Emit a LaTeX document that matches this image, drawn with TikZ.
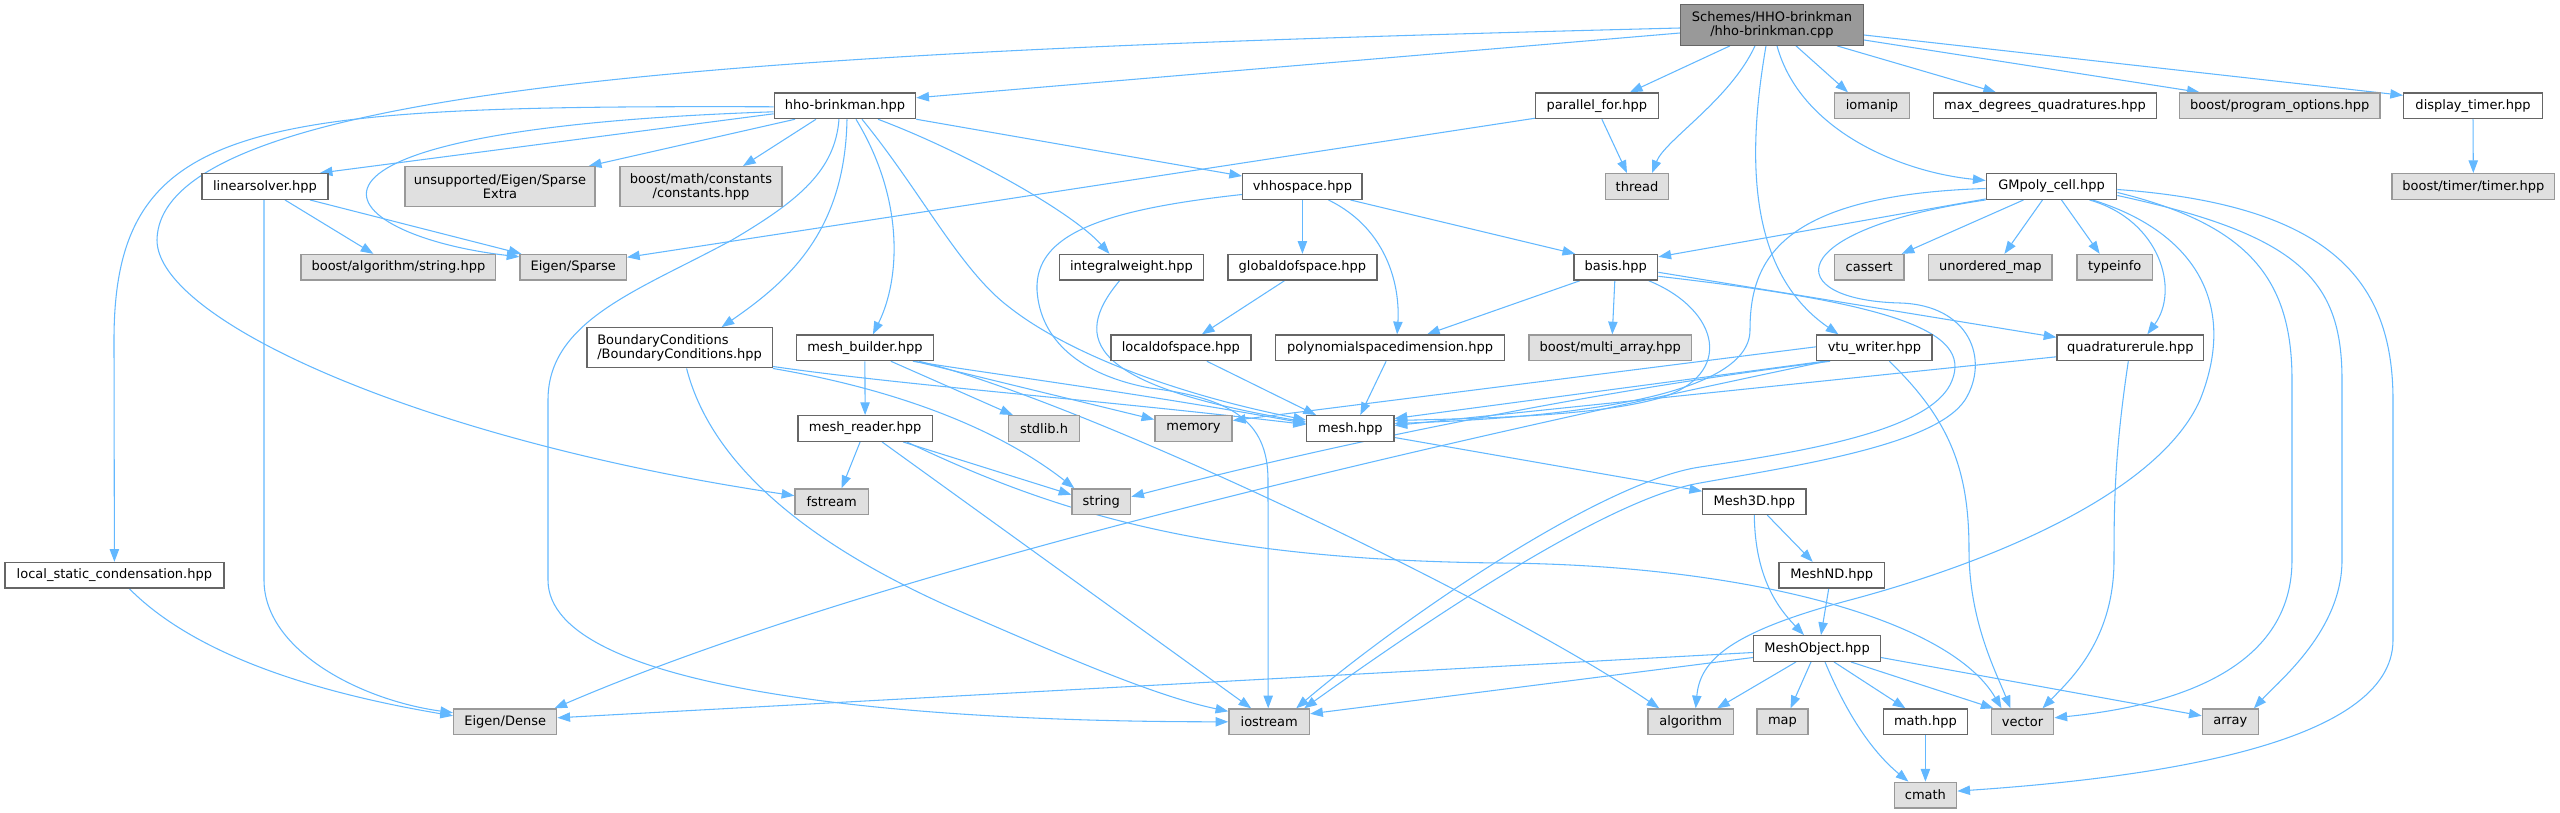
\documentclass[tikz,border=0pt]{standalone}
\usepackage{fontspec}
\setmainfont{DejaVu Sans}
\usetikzlibrary{arrows.meta,calc,backgrounds}
\definecolor{edgec}{HTML}{63B8FF}
\definecolor{docb}{HTML}{666666}
\definecolor{extb}{HTML}{999999}
\definecolor{extf}{HTML}{E0E0E0}
\definecolor{rootf}{HTML}{999999}
\newcommand\nfnt{\fontsize{9.75pt}{10.9pt}\selectfont}
\tikzset{
  docbox/.style={draw=docb, fill=white, line width=1pt, inner sep=0pt, minimum height=19.2pt, font=\nfnt},
  extbox/.style={docbox, draw=extb, fill=extf},
  rootbox/.style={docbox, fill=rootf},
  twoline/.style={minimum height=30pt, align=center},
  wd/.style={minimum width=#1*0.75pt},
  conn/.style={draw=edgec, line width=0.8pt, -{Triangle[length=9.5pt,width=7pt]}},
}
\begin{document}
\begin{tikzpicture}[x=0.75pt,y=-0.75pt]
\useasboundingbox (0,0) rectangle (2560,813);
% nodes
\node[rootbox, wd=182.6, minimum height=30.3pt, align=center] (cpp) at (1772,25) {Schemes/HHO-brinkman\\/hho-brinkman.cpp};
\node[docbox, wd=141.3] (hho) at (845,105.8) {hho-brinkman.hpp};
\node[docbox, wd=122.9] (pfor) at (1596.9,105.8) {parallel\_for.hpp};
\node[extbox, wd=75.1] (iomanip) at (1872,105.8) {iomanip};
\node[docbox, wd=222.7] (maxdeg) at (2045,105.8) {max\_degrees\_quadratures.hpp};
\node[extbox, wd=200.8] (progopt) at (2279.7,105.8) {boost/program\_options.hpp};
\node[docbox, wd=138.7] (disptimer) at (2473,105.8) {display\_timer.hpp};
\node[docbox, wd=126.2] (linsolver) at (265,186.5) {linearsolver.hpp};
\node[extbox, wd=190.2, twoline] (unsup) at (500,186.7) {unsupported/Eigen/Sparse\\Extra};
\node[extbox, wd=162.2, twoline] (bmath) at (701,186.7) {boost/math/constants\\/constants.hpp};
\node[docbox, wd=119.5] (vhho) at (1302.4,186.5) {vhhospace.hpp};
\node[extbox, wd=63.6] (thread) at (1637,186.5) {thread};
\node[docbox, wd=130.5] (gmpoly) at (2051.5,186.5) {GMpoly\_cell.hpp};
\node[extbox, wd=162.4] (btimer) at (2473.3,186.5) {boost/timer/timer.hpp};
\node[extbox, wd=194.8] (balg) at (398.4,267.3) {boost/algorithm/string.hpp};
\node[extbox, wd=106.3] (esparse) at (573.2,267.3) {Eigen/Sparse};
\node[docbox, wd=144.2] (intw) at (1131.5,267.3) {integralweight.hpp};
\node[docbox, wd=149.1] (gdof) at (1302.4,267.3) {globaldofspace.hpp};
\node[docbox, wd=83.9] (basis) at (1615.8,267.3) {basis.hpp};
\node[extbox, wd=69.6] (cassert) at (1869.2,267.3) {cassert};
\node[extbox, wd=123.4] (umap) at (1990.4,267.3) {unordered\_map};
\node[extbox, wd=75.7] (typeinfo) at (2114.7,267.3) {typeinfo};
\node[docbox, wd=185.2, twoline, align=left] (bc) at (679.6,347.8) {BoundaryConditions\\/BoundaryConditions.hpp};
\node[docbox, wd=137.2] (mbuilder) at (864.9,347.8) {mesh\_builder.hpp};
\node[docbox, wd=139.9] (ldof) at (1180.9,347.8) {localdofspace.hpp};
\node[docbox, wd=229.2] (polyd) at (1390.1,347.8) {polynomialspacedimension.hpp};
\node[extbox, wd=162.8] (multiarr) at (1610.3,347.8) {boost/multi\_array.hpp};
\node[docbox, wd=115.2] (vtu) at (1874.4,347.8) {vtu\_writer.hpp};
\node[docbox, wd=146.5] (quadr) at (2130.3,347.8) {quadraturerule.hpp};
\node[docbox, wd=134.2] (mreader) at (865.1,428.5) {mesh\_reader.hpp};
\node[extbox, wd=71] (stdlib) at (1044,428.5) {stdlib.h};
\node[extbox, wd=77.3] (memory) at (1193.5,428.5) {memory};
\node[docbox, wd=87.2] (mesh) at (1350.3,428.5) {mesh.hpp};
\node[extbox, wd=73.2] (fstream) at (831.6,501.7) {fstream};
\node[extbox, wd=58.6] (string) at (1101.3,501.7) {string};
\node[docbox, wd=103.1] (mesh3d) at (1754.3,501.7) {Mesh3D.hpp};
\node[docbox, wd=218.9] (lsc) at (114.4,575.3) {local\_static\_condensation.hpp};
\node[docbox, wd=105.3] (meshnd) at (1831.7,575.3) {MeshND.hpp};
\node[docbox, wd=126.7] (meshobj) at (1817,648.5) {MeshObject.hpp};
\node[extbox, wd=103.1] (edense) at (505.2,721.8) {Eigen/Dense};
\node[extbox, wd=80.6] (iostream) at (1269.2,721.8) {iostream};
\node[extbox, wd=85.5] (algo) at (1690.7,721.8) {algorithm};
\node[extbox, wd=51] (map) at (1782.5,721.8) {map};
\node[docbox, wd=84.4] (mathh) at (1925.4,721.8) {math.hpp};
\node[extbox, wd=62.6] (vector) at (2022.5,721.8) {vector};
\node[extbox, wd=55.9] (array) at (2230.3,721.8) {array};
\node[extbox, wd=62.5] (cmath) at (1925.4,795.1) {cmath};
% edges
\begin{scope}[on background layer]
% from cpp
\draw[conn] ($(cpp.west)+(0,8)$) -- ($(hho.east)+(0,-8)$);
\draw[conn] ($(cpp.west)+(0,3)$) .. controls (800,50) and (160,80) .. (157,240) .. controls (157,320) and (420,440) .. ($(fstream.west)+(0,-6)$);
\draw[conn] ($(cpp.south)+(-42,0)$) -- ($(pfor.north)+(33,0)$);
\draw[conn] ($(cpp.south)+(-17,0)$) .. controls (1730,100) and (1665,140) .. ($(thread.north)+(15,0)$);
\draw[conn] ($(cpp.south)+(-6,0)$) .. controls (1748,150) and (1745,270) .. ($(vtu.north)+(-36,0)$);
\draw[conn] ($(cpp.south)+(5,0)$) .. controls (1800,130) and (1900,172) .. ($(gmpoly.west)+(0,-6)$);
\draw[conn] ($(cpp.south)+(24,0)$) -- ($(iomanip.north)+(-24,0)$);
\draw[conn] ($(cpp.south)+(65,0)$) -- ($(maxdeg.north)+(-49,0)$);
\draw[conn] ($(cpp.east)+(0,15)$) -- ($(progopt.north)+(-80,0)$);
\draw[conn] ($(cpp.east)+(0,10)$) -- ($(disptimer.north west)+(0,3)$);
% from hho-brinkman.hpp
\draw[conn] ($(hho.west)+(0,8)$) -- ($(linsolver.north east)+(-9,0)$);
\draw[conn] ($(hho.west)+(0,1)$) .. controls (250,105) and (114,120) .. (114,340) -- (lsc.north);
\draw[conn] ($(hho.west)+(0,6)$) .. controls (230,130) and (330,235) .. ($(esparse.north west)+(0,3)$);
\draw[conn] ($(hho.south)+(-50,0)$) -- ($(unsup.north east)+(-7,0)$);
\draw[conn] ($(hho.south)+(-29,0)$) -- ($(bmath.north)+(42,0)$);
\draw[conn] ($(hho.south)+(-6,0)$) .. controls (835,170) and (800,200) .. (732,240) .. controls (640,290) and (548,320) .. (548,400) -- (548,580) .. controls (548,690) and (900,721.8) .. (iostream.west);
\draw[conn] ($(hho.south)+(2,0)$) .. controls (845,230) and (790,280) .. ($(bc.north)+(42,0)$);
\draw[conn] ($(hho.south)+(11,0)$) .. controls (905,200) and (900,280) .. ($(mbuilder.north)+(8,0)$);
\draw[conn] ($(hho.south)+(17,0)$) .. controls (920,190) and (960,270) .. (1009,307) .. controls (1070,355) and (1180,395) .. ($(mesh.north west)+(0,5)$);
\draw[conn] ($(hho.south)+(33,0)$) .. controls (960,150) and (1070,210) .. ($(intw.north)+(-22,0)$);
\draw[conn] (hho.south east) -- ($(vhho.north west)+(0,3)$);
% parallel_for, display_timer
\draw[conn] ($(pfor.south)+(5,0)$) -- ($(thread.north)+(-10,0)$);
\draw[conn] ($(pfor.south west)+(0,-1)$) -- ($(esparse.east)+(0,-10)$);
\draw[conn] (disptimer.south) -- (btimer.north);
% linearsolver, local_static_condensation
\draw[conn] ($(linsolver.south)+(20,0)$) -- ($(balg.north)+(-25,0)$);
\draw[conn] ($(linsolver.south)+(45,0)$) -- ($(esparse.north west)+(2,0)$);
\draw[conn] ($(linsolver.south)+(-1,0)$) -- (264,580) .. controls (264,650) and (360,700) .. ($(edense.west)+(0,-9)$);
\draw[conn] ($(lsc.south)+(15,0)$) .. controls (200,660) and (330,695) .. ($(edense.west)+(0,-6)$);
% vhhospace
\draw[conn] (vhho.south) -- (gdof.north);
\draw[conn] ($(vhho.south)+(26,0)$) .. controls (1390,230) and (1400,290) .. ($(polyd.north)+(7,0)$);
\draw[conn] ($(vhho.south)+(48,0)$) -- ($(basis.north west)+(2,0)$);
\draw[conn] ($(vhho.west)+(0,8)$) .. controls (1100,210) and (1035,235) .. (1037,290) .. controls (1040,340) and (1080,375) .. (1150,388) .. controls (1230,398) and (1268,420) .. (1268,480) -- ($(iostream.north)+(-1,0)$);
% integralweight, dof spaces
\draw[conn] ($(intw.south)+(-12,0)$) .. controls (1070,340) and (1090,385) .. ($(mesh.north west)+(0,7)$);
\draw[conn] ($(gdof.south)+(-18,0)$) -- ($(ldof.north)+(21,0)$);
\draw[conn] ($(ldof.south)+(26,0)$) -- ($(mesh.north west)+(10,0)$);
\draw[conn] ($(polyd.south)+(-4,0)$) -- ($(mesh.north)+(10,0)$);
% basis
\draw[conn] ($(basis.south)+(-36,0)$) -- ($(polyd.north)+(37,0)$);
\draw[conn] ($(basis.south)+(-1,0)$) -- ($(multiarr.north)+(2,0)$);
\draw[conn] ($(basis.south)+(33,0)$) .. controls (1720,310) and (1735,375) .. (1660,398) .. controls (1600,415) and (1500,418) .. ($(mesh.east)+(0,-8)$);
\draw[conn] ($(basis.east)+(0,5)$) -- ($(quadr.north west)+(0,3)$);
\draw[conn] ($(basis.east)+(0,9)$) .. controls (1910,305) and (1975,335) .. (1950,385) .. controls (1925,432) and (1800,452) .. (1700,467) .. controls (1600,482) and (1400,620) .. ($(iostream.north east)+(-14,0)$);
% GMpoly_cell
\draw[conn] (gmpoly.south west) .. controls (1780,230) and (1780,300) .. (1900,303) .. controls (1970,305) and (1990,360) .. (1965,400) .. controls (1935,445) and (1800,465) .. (1700,483) .. controls (1600,500) and (1400,640) .. ($(iostream.north east)+(-6,0)$);
\draw[conn] ($(gmpoly.south west)+(0,-1)$) -- ($(basis.north east)+(0,3)$);
\draw[conn] ($(gmpoly.west)+(0,2)$) .. controls (1780,195) and (1750,260) .. (1750,330) .. controls (1750,400) and (1550,418) .. ($(mesh.east)+(0,-5)$);
\draw[conn] ($(gmpoly.south)+(-28,0)$) -- ($(cassert.north east)+(-3,0)$);
\draw[conn] ($(gmpoly.south)+(-9,0)$) -- ($(umap.north)+(14,0)$);
\draw[conn] ($(gmpoly.south)+(10,0)$) -- ($(typeinfo.north)+(-15,0)$);
\draw[conn] ($(gmpoly.south)+(38,0)$) .. controls (2160,220) and (2180,290) .. ($(quadr.north)+(17,0)$);
\draw[conn] ($(gmpoly.south)+(41,0)$) .. controls (2190,230) and (2240,300) .. (2200,400) .. controls (2160,490) and (2000,560) .. (1850,600) .. controls (1730,632) and (1700,660) .. ($(algo.north)+(5,0)$);
\draw[conn] ($(gmpoly.east)+(0,6)$) .. controls (2250,225) and (2292,280) .. (2292,380) -- (2292,560) .. controls (2292,680) and (2150,708) .. ($(vector.east)+(0,-4)$);
\draw[conn] ($(gmpoly.east)+(0,9)$) .. controls (2300,235) and (2342,280) .. (2342,380) -- (2342,560) .. controls (2342,630) and (2280,680) .. ($(array.north east)+(-5,0)$);
\draw[conn] ($(gmpoly.east)+(0,3)$) .. controls (2330,205) and (2393,280) .. (2393,400) -- (2393,640) .. controls (2393,745) and (2150,778) .. ($(cmath.east)+(0,-4)$);
% vtu_writer
\draw[conn] ($(vtu.west)+(0,-1)$) -- ($(memory.east)+(0,-8)$);
\draw[conn] ($(vtu.south west)+(8,0)$) -- ($(mesh.east)+(0,-10)$);
\draw[conn] ($(vtu.south west)+(14,0)$) .. controls (1600,390) and (1350,440) .. ($(string.east)+(0,-5)$);
\draw[conn] ($(vtu.south west)+(10,0)$) .. controls (1500,430) and (900,560) .. ($(edense.north east)+(-3,0)$);
\draw[conn] ($(vtu.south)+(15,0)$) .. controls (1950,420) and (1969,470) .. (1969,550) .. controls (1969,620) and (1995,670) .. ($(vector.north)+(-12,0)$);
% quadraturerule
\draw[conn] ($(quadr.west)+(0,9)$) -- ($(mesh.east)+(0,-3)$);
\draw[conn] ($(quadr.south)+(-2,0)$) .. controls (2115,450) and (2114,500) .. (2114,560) .. controls (2114,640) and (2070,680) .. ($(vector.north)+(20,0)$);
% mesh_builder
\draw[conn] (mbuilder.south) -- (mreader.north);
\draw[conn] ($(mbuilder.south)+(26,0)$) -- ($(stdlib.north west)+(5,0)$);
\draw[conn] ($(mbuilder.south)+(50,0)$) -- ($(memory.west)+(0,-9)$);
\draw[conn] ($(mbuilder.south)+(48,0)$) .. controls (1000,375) and (1150,395) .. ($(mesh.west)+(0,-5)$);
\draw[conn] ($(mbuilder.south)+(54,0)$) .. controls (1080,400) and (1500,600) .. ($(algo.north west)+(12,0)$);
% BoundaryConditions
\draw[conn] ($(bc.south east)+(0,-2)$) .. controls (900,385) and (1100,400) .. ($(mesh.west)+(0,-4)$);
\draw[conn] (bc.south east) .. controls (900,390) and (1000,430) .. ($(string.north west)+(3,0)$);
\draw[conn] ($(bc.south)+(7,0)$) .. controls (710,460) and (800,540) .. (950,607) .. controls (1050,650) and (1150,695) .. ($(iostream.north west)+(0,3)$);
% mesh_reader
\draw[conn] ($(mreader.south)+(-5,0)$) -- ($(fstream.north)+(10,0)$);
\draw[conn] ($(mreader.south)+(38,0)$) -- ($(string.west)+(0,-7)$);
\draw[conn] ($(mreader.south)+(17,0)$) -- ($(iostream.north)+(-18,0)$);
\draw[conn] ($(mreader.south east)+(-26,0)$) .. controls (1050,510) and (1200,560) .. (1500,563) .. controls (1750,565) and (1950,620) .. ($(vector.north)+(-21,0)$);
% mesh, Mesh3D, MeshND
\draw[conn] ($(mesh.east)+(0,9)$) -- ($(mesh3d.north west)+(0,3)$);
\draw[conn] ($(mesh3d.south)+(13,0)$) -- ($(meshnd.north)+(-19,0)$);
\draw[conn] (mesh3d.south) .. controls (1755,580) and (1780,610) .. ($(meshobj.north)+(-13,0)$);
\draw[conn] ($(meshnd.south)+(-3,0)$) -- ($(meshobj.north)+(4,0)$);
% MeshObject
\draw[conn] ($(meshobj.west)+(0,4)$) -- ($(edense.east)+(0,-4)$);
\draw[conn] ($(meshobj.west)+(0,9)$) -- ($(iostream.east)+(0,-8)$);
\draw[conn] ($(meshobj.south)+(-21,0)$) -- ($(algo.north east)+(-17,0)$);
\draw[conn] ($(meshobj.south)+(-6,0)$) -- ($(map.north)+(8,0)$);
\draw[conn] ($(meshobj.south)+(8,0)$) .. controls (1845,710) and (1870,750) .. ($(cmath.north)+(-17,0)$);
\draw[conn] ($(meshobj.south)+(17,0)$) -- ($(mathh.north)+(-20,0)$);
\draw[conn] ($(meshobj.south)+(34,0)$) -- ($(vector.north west)+(3,0)$);
\draw[conn] ($(meshobj.east)+(0,9)$) -- ($(array.west)+(0,-6)$);
\draw[conn] (mathh.south) -- (cmath.north);
\end{scope}
\end{tikzpicture}
\end{document}
